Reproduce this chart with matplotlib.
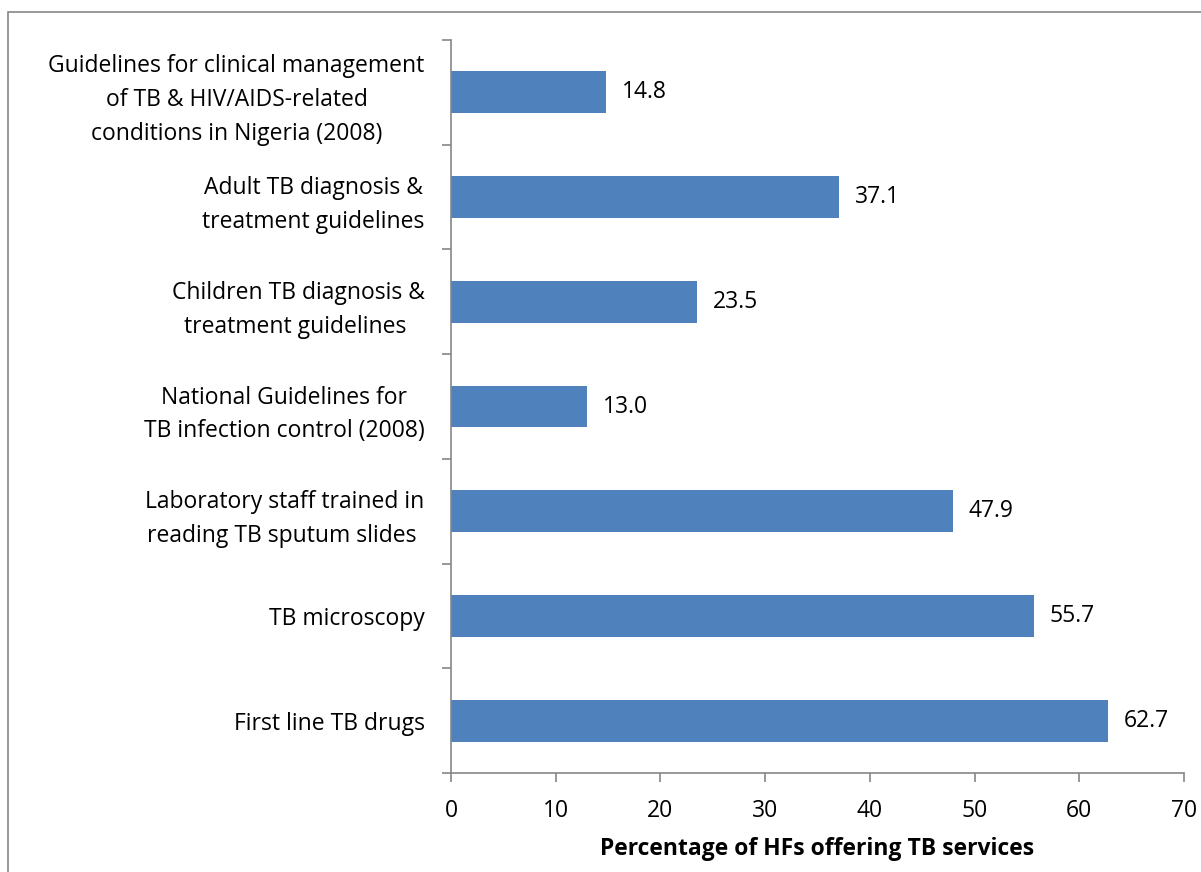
import matplotlib
matplotlib.use("Agg")
import matplotlib.pyplot as plt
from matplotlib.patches import Rectangle

categories = [
    "Guidelines for clinical management\nof TB & HIV/AIDS-related\nconditions in Nigeria (2008)",
    "Adult TB diagnosis &\ntreatment guidelines",
    "Children TB diagnosis &\ntreatment guidelines ",
    "National Guidelines for\nTB infection control (2008)",
    "Laboratory staff trained in\nreading TB sputum slides ",
    "TB microscopy",
    "First line TB drugs",
]
values = [14.8, 37.1, 23.5, 13.0, 47.9, 55.7, 62.7]
xticks = [0, 10, 20, 30, 40, 50, 60, 70]
xlabel = "Percentage of HFs offering TB services"

plt.rcParams['font.family'] = ['Open Sans', 'DejaVu Sans']
FS = 16.5

W, H = 1201, 872
fig = plt.figure(figsize=(W / 100, H / 100), dpi=100)
ax = fig.add_axes([451 / W, 1 - 773 / H, (1184 - 451) / W, (773 - 40) / H])

n = len(categories)
ypos = list(range(n - 1, -1, -1))
ax.barh(ypos, values, height=0.4, color="#4F81BD")
ax.set_ylim(-0.5, n - 0.5)
ax.set_xlim(0, 70)

gray = "#868686"
for s in ["top", "right"]:
    ax.spines[s].set_visible(False)
for s in ["left", "bottom"]:
    ax.spines[s].set_color(gray)
    ax.spines[s].set_linewidth(1.2)

ax.set_xticks(xticks)
ax.set_xticklabels([str(t) for t in xticks], fontsize=FS)
ax.tick_params(axis="x", direction="out", length=6.5, color=gray, width=1.2, pad=12)

ax.set_yticks(ypos)
ax.set_yticklabels(categories, fontsize=FS, multialignment="center", linespacing=1.55)
ax.tick_params(axis="y", length=0, pad=19)
# boundary ticks on y axis
bounds = [i - 0.5 for i in range(n + 1)]
ax.set_yticks(bounds, minor=True)
ax.tick_params(axis="y", which="minor", direction="out", length=6.5, color=gray, width=1.2)

for y, v in zip(ypos, values):
    ax.text(v + 1.5, y, f"{v:.1f}", va="center", ha="left", fontsize=FS)

ax.set_xlabel(xlabel, fontsize=FS, fontweight="bold", labelpad=10)

# outer chart frame
fig.patches.append(Rectangle((8 / W, -0.1), 1.2, 1 - 12 / H + 0.1,
                             transform=fig.transFigure, fill=False,
                             edgecolor=gray, linewidth=1.2))

fig.savefig("out.png", dpi=100)
